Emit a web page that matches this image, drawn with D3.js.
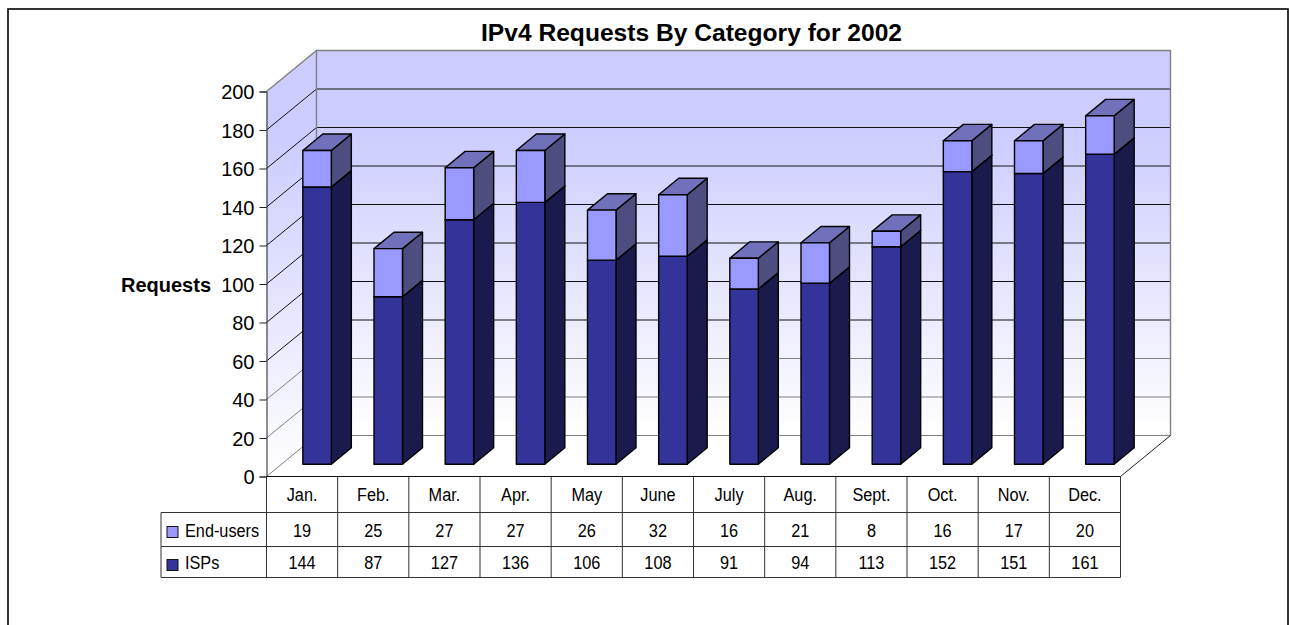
<!DOCTYPE html>
<html>
<head>
<meta charset="utf-8">
<script src="https://cdn.jsdelivr.net/npm/d3@7"></script>
<style>
  html, body { margin: 0; padding: 0; background: #fff; overflow: hidden; }
  svg { display: block; }
  text { font-family: "Liberation Sans", Arial, sans-serif; fill: #000; }
</style>
</head>
<body>
<div id="chart"></div>
<script>
var months = ["Jan.", "Feb.", "Mar.", "Apr.", "May", "June", "July", "Aug.", "Sept.", "Oct.", "Nov.", "Dec."];
var endUsers = [19, 25, 27, 27, 26, 32, 16, 21, 8, 16, 17, 20];
var isps = [144, 87, 127, 136, 106, 108, 91, 94, 113, 152, 151, 161];
var yTicks = [0, 20, 40, 60, 80, 100, 120, 140, 160, 180, 200];

var width = 1289, height = 625;
var left = 266.5, right = 1120.5, floorY = 476.5, topY = 91.5;
var depthX = 50, depthY = 41;   // wall depth
var barW = 28.5;

var svg = d3.select("#chart").append("svg").attr("width", width).attr("height", height);

var x = d3.scaleBand().domain(months).range([left, right]);
var y = d3.scaleLinear().domain([0, 200]).range([floorY, topY]);

// 3d projection, d = 0 at front of the floor, d = 1 at the back wall
function px(vx, d) { return vx + depthX * d; }
function py(vy, d) { return vy - depthY * d; }
function poly(pts) { return pts.map(function(p) { return p.join(","); }).join(" "); }

var defs = svg.append("defs");
var grad = defs.append("linearGradient").attr("id", "wall").attr("x1", 0).attr("y1", 0).attr("x2", 0).attr("y2", 1);
grad.append("stop").attr("offset", "0%").attr("stop-color", "#ccccff");
grad.append("stop").attr("offset", "20%").attr("stop-color", "#ccccff");
grad.append("stop").attr("offset", "100%").attr("stop-color", "#ffffff");

// outer frame
svg.append("rect").attr("x", 8).attr("y", 9).attr("width", 1280).attr("height", 640)
  .attr("fill", "none").attr("stroke", "#000").attr("stroke-width", 1.6);

// walls
svg.append("polygon")
  .attr("points", poly([[px(left, 1), py(y(200), 1)], [px(right, 1), py(y(200), 1)], [px(right, 1), py(y(0), 1)], [px(left, 1), py(y(0), 1)]]))
  .attr("fill", "url(#wall)");
svg.append("polygon")
  .attr("points", poly([[left, y(200)], [px(left, 1), py(y(200), 1)], [px(left, 1), py(y(0), 1)], [left, y(0)]]))
  .attr("fill", "url(#wall)");

// gridlines, around the side and back wall
svg.append("g").selectAll("polyline").data(yTicks.slice(1, -1).concat([0])).enter().append("polyline")
  .attr("points", function(t) { return poly([[left, y(t)], [px(left, 1), py(y(t), 1)], [px(right, 1), py(y(t), 1)]]); })
  .attr("fill", "none")
  .attr("stroke", function(t) { return t < 50 ? "#808080" : "#111"; })
  .attr("stroke-width", 1);

// wall edges
svg.append("polyline")
  .attr("points", poly([[left, y(200)], [px(left, 1), py(y(200), 1)], [px(right, 1), py(y(200), 1)], [px(right, 1), py(y(0), 1)]]))
  .attr("fill", "none").attr("stroke", "#808080").attr("stroke-width", 1.4);
svg.append("line").attr("x1", px(left, 1)).attr("y1", py(y(200), 1)).attr("x2", px(left, 1)).attr("y2", py(y(0), 1))
  .attr("stroke", "#808080").attr("stroke-width", 1.4);
svg.append("line").attr("x1", right).attr("y1", y(0)).attr("x2", px(right, 1)).attr("y2", py(y(0), 1))
  .attr("stroke", "#222").attr("stroke-width", 1);

// bars
var stacks = d3.stack().keys(["isp", "end"])(months.map(function(m, i) { return { month: m, isp: isps[i], end: endUsers[i] }; }));
var frontD = 0.3, backD = 0.7;
var colors = {
  isp: { front: "#333399", side: "#1a1a4d", top: "#333399" },
  end: { front: "#9999ff", side: "#4d4d80", top: "#7070bb" }
};
var bars = svg.append("g").attr("stroke", "#000").attr("stroke-width", 1.4).attr("stroke-linejoin", "round");
months.forEach(function(m, i) {
  var cx = x(m) + x.bandwidth() / 2;
  var x0 = cx - barW / 2, x1 = cx + barW / 2;
  stacks.forEach(function(s) {
    var c = colors[s.key], lo = y(s[i][0]), hi = y(s[i][1]);
    var g = bars.append("g");
    g.append("polygon").attr("fill", c.side).attr("points", poly([
      [px(x1, frontD), py(lo, frontD)], [px(x1, backD), py(lo, backD)], [px(x1, backD), py(hi, backD)], [px(x1, frontD), py(hi, frontD)]]));
    g.append("polygon").attr("fill", c.top).attr("points", poly([
      [px(x0, frontD), py(hi, frontD)], [px(x0, backD), py(hi, backD)], [px(x1, backD), py(hi, backD)], [px(x1, frontD), py(hi, frontD)]]));
    g.append("polygon").attr("fill", c.front).attr("points", poly([
      [px(x0, frontD), py(lo, frontD)], [px(x1, frontD), py(lo, frontD)], [px(x1, frontD), py(hi, frontD)], [px(x0, frontD), py(hi, frontD)]]));
  });
});

// value axis
var axis = d3.axisLeft(y).tickValues(yTicks).tickSize(7).tickPadding(5).tickFormat(d3.format("d"));
var axisG = svg.append("g").attr("transform", "translate(" + left + ",0)").call(axis);
axisG.selectAll("text").style("font-size", "20px").style("font-family", '"Liberation Sans", Arial, sans-serif').attr("fill", "#000").attr("dy", "0.37em");
axisG.selectAll("line, path").attr("stroke", "#222");

// title and axis title
svg.append("text").attr("x", 691.5).attr("y", 41).attr("text-anchor", "middle")
  .style("font-size", "24.6px").style("font-weight", "bold").text("IPv4 Requests By Category for 2002");
svg.append("text").attr("x", 211).attr("y", 292).attr("text-anchor", "end")
  .style("font-size", "20px").style("font-weight", "bold").text("Requests");

// data table
var rows = [
  { name: "End-users", values: endUsers, color: "#9999ff" },
  { name: "ISPs", values: isps, color: "#333399" }
];
var tableLeft = 161;
var rowY = [476.5, 512.5, 546.5, 577.5];
var table = svg.append("g");
var narrow = 0.88;

function cellText(cx, cy, str, anchor) {
  table.append("text")
    .attr("transform", "translate(" + cx + "," + cy + ") scale(" + narrow + ",1)")
    .attr("text-anchor", anchor || "middle")
    .style("font-size", "18.5px")
    .text(str);
}

// table lines
var lineColor = "#333";
table.append("line").attr("x1", left).attr("x2", right).attr("y1", rowY[0]).attr("y2", rowY[0]).attr("stroke", "#111");
table.append("line").attr("x1", tableLeft).attr("x2", right).attr("y1", rowY[1]).attr("y2", rowY[1]).attr("stroke", lineColor);
table.append("line").attr("x1", tableLeft).attr("x2", right).attr("y1", rowY[2]).attr("y2", rowY[2]).attr("stroke", lineColor);
table.append("line").attr("x1", tableLeft).attr("x2", right).attr("y1", rowY[3]).attr("y2", rowY[3]).attr("stroke", lineColor);
table.append("line").attr("x1", tableLeft).attr("x2", tableLeft).attr("y1", rowY[1]).attr("y2", rowY[3]).attr("stroke", lineColor);
months.forEach(function(m) {
  table.append("line").attr("x1", x(m)).attr("x2", x(m)).attr("y1", rowY[0]).attr("y2", rowY[3]).attr("stroke", lineColor);
});
table.append("line").attr("x1", right).attr("x2", right).attr("y1", rowY[0]).attr("y2", rowY[3]).attr("stroke", lineColor);

// table text
months.forEach(function(m) {
  cellText(x(m) + x.bandwidth() / 2, 501, m);
});
rows.forEach(function(r, ri) {
  var textY = rowY[ri + 1] + 24 - ri * 2;
  table.append("rect").attr("x", 167).attr("y", rowY[ri + 1] + 14 - ri * 1).attr("width", 11).attr("height", 11)
    .attr("fill", r.color).attr("stroke", "#111");
  cellText(185, textY, r.name, "start");
  r.values.forEach(function(v, i) {
    cellText(x(months[i]) + x.bandwidth() / 2, textY, v);
  });
});
</script>
</body>
</html>
